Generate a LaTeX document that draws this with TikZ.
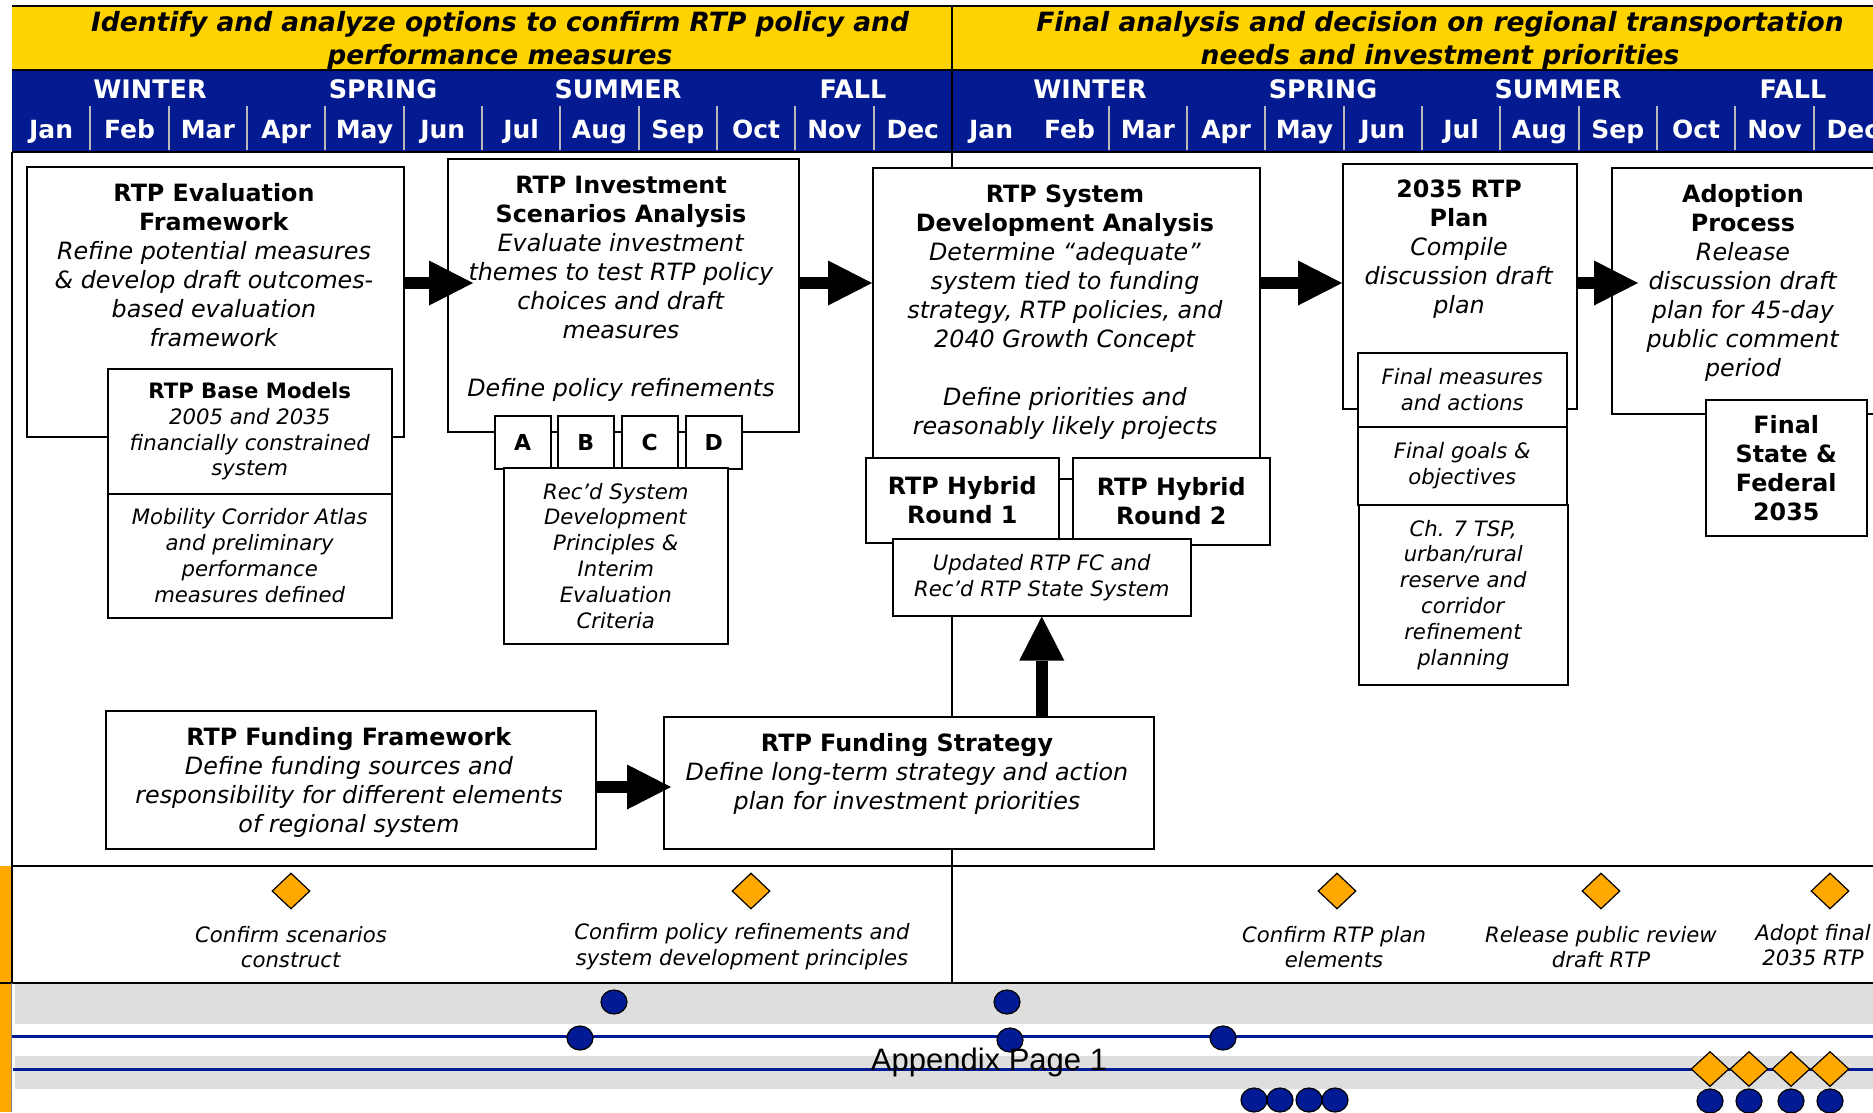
\documentclass[tikz,border=0pt]{standalone}
\usepackage{fontspec}
\setmainfont{DejaVu Sans}[ItalicFont={DejaVu Sans Oblique},BoldItalicFont={DejaVu Sans Bold Oblique}]
\newfontfamily\arialfont{Liberation Sans}
\usepackage{tikz}
\usetikzlibrary{arrows.meta, shapes.geometric}
\definecolor{hdryellow}{RGB}{255,211,0}
\definecolor{hdrblue}{RGB}{4,26,145}
\definecolor{msorange}{RGB}{255,168,0}
\definecolor{bandgray}{RGB}{222,222,222}
\definecolor{dotblue}{RGB}{2,26,148}
\definecolor{sepgray}{RGB}{185,185,185}
\newcommand{\boxfont}{\fontsize{23.8}{29}\selectfont}
\newcommand{\notefont}{\fontsize{21.2}{25.8}\selectfont}

\begin{document}
\begin{tikzpicture}[x=1pt,y=-1pt,
        box/.style={draw=black,line width=1.5pt,fill=white,inner sep=0pt,anchor=north west,align=center},
        boxtxt/.style={align=center,inner sep=0pt,font=\boxfont},
        notetxt/.style={align=center,inner sep=0pt,font=\notefont},
        hdrtxt/.style={align=center,inner sep=0pt,font=\fontsize{26.5}{33}\selectfont\bfseries\itshape},
        season/.style={text=white,inner sep=0pt,anchor=base,font=\fontsize{25.5}{25.5}\selectfont\bfseries},
        month/.style={text=white,inner sep=0pt,anchor=base,font=\fontsize{25}{25}\selectfont\bfseries},
        sepline/.style={sepgray,line width=2pt},
        bigarrow/.style={line width=12pt,-{Triangle[length=44pt,width=45pt,line width=0pt]}},
        milestone/.style={diamond,draw=black,line width=1.2pt,fill=msorange,inner sep=0pt,minimum width=38pt,minimum height=36pt},
        dot/.style={ellipse,draw=black,line width=1.2pt,fill=dotblue,inner sep=0pt,minimum width=26pt,minimum height=24pt}]

        \useasboundingbox (0,0) rectangle (1873,1112);
        \clip (0,0) rectangle (1873,1112);
        \fill[white] (0,0) rectangle (1873,1112);

        % Header bands
        \fill[hdryellow] (12,6) rectangle (1873,70);
        \fill[hdrblue] (12,70) rectangle (1873,152);
        \draw[line width=2.5pt] (12,6) -- (1873,6);
        \draw[line width=2.5pt] (12,70) -- (1873,70);
        \draw[line width=2.5pt] (12,152) -- (1873,152);
        \draw[line width=2.5pt] (952,6) -- (952,152); % year divider
        \node[hdrtxt] (phase1) at (500,41) {Identify and analyze options to confirm RTP policy and\\performance measures};
        \node[hdrtxt] (phase2) at (1440,41) {Final analysis and decision on regional transportation\\needs and investment priorities};

        % Seasons and months
        \foreach \yr in {12,952} {
                \foreach \s/\dx in {WINTER/138,SPRING/371,SUMMER/606,FALL/841}
                        \node[season] (s\yr-\s) at ({\yr+\dx},98) {\s};
                \foreach \m [count=\i from 0] in {Jan,Feb,Mar,Apr,May,Jun,Jul,Aug,Sep,Oct,Nov,Dec}
                        \node[month] (m\yr-\m) at ({\yr+78.33*(\i+0.5)},138) {\m};
        }
        \foreach \k in {1,...,11} \draw[sepline] ({12+78.33*\k},106) -- ({12+78.33*\k},150);
        \foreach \k in {2,...,11} \draw[sepline] ({952+78.33*\k},106) -- ({952+78.33*\k},150);

        % Body frame
        \draw[line width=2pt] (12,152) -- (12,983); % left border
        \draw[line width=1.5pt] (952,152) -- (952,983); % year divider
        \fill[bandgray] (15,983) rectangle (1873,1024);
        \fill[bandgray] (15,1056) rectangle (1873,1089);
        \draw[dotblue,line width=3pt] (12,1036) -- (1873,1036);
        \draw[dotblue,line width=3pt] (13,1069) -- (1873,1069);
        \fill[msorange] (0,866) rectangle (11,1112);
        \draw[line width=1.5pt] (0,983) -- (12,983);
        \draw[gray,line width=1pt] (11,983) -- (11,1112);
        \draw[line width=1.5pt] (12,866) -- (1873,866);
        \draw[line width=2.5pt] (12,983) -- (1873,983);

        % First year
        \node[box,minimum width=377pt,minimum height=270pt] (evalfw) at (26,166) {};
        \node[boxtxt] (evalfwtxt) at (214,265) {\textbf{RTP Evaluation}\\\textbf{Framework}\\\textit{Refine potential measures}\\\textit{\& develop draft outcomes-}\\\textit{based evaluation}\\\textit{framework}};
        \node[box,minimum width=284pt,minimum height=125pt,font=\notefont] (basemod) at (107,368) {\textbf{RTP Base Models}\\\textit{2005 and 2035}\\\textit{financially constrained}\\\textit{system}};
        \node[box,minimum width=284pt,minimum height=124pt,font=\notefont] (atlas) at (107,493) {\textit{Mobility Corridor Atlas}\\\textit{and preliminary}\\\textit{performance}\\\textit{measures defined}};

        \node[box,minimum width=351pt,minimum height=273pt] (invest) at (447,158) {};
        \node[boxtxt] (investtxt) at (621,289) {\textbf{RTP Investment}\\\textbf{Scenarios Analysis}\\\textit{Evaluate investment}\\\textit{themes to test RTP policy}\\\textit{choices and draft}\\\textit{measures}\\[29pt]\textit{Define policy refinements}};
        \foreach \l/\xx in {A/494,B/557,C/621,D/685}
                \node[box,minimum width=56pt,minimum height=53pt,font=\fontsize{22}{22}\selectfont\bfseries] (sc\l) at (\xx,415) {\l};
        \node[box,minimum width=224pt,minimum height=176pt,font=\notefont] (recd) at (503,467) {\textit{Rec’d System}\\\textit{Development}\\\textit{Principles \&}\\\textit{Interim}\\\textit{Evaluation}\\\textit{Criteria}};

        % Second year
        \node[box,minimum width=387pt,minimum height=311pt] (sysdev) at (872,167) {};
        \node[boxtxt] (sysdevtxt) at (1065,312) {\textbf{RTP System}\\\textbf{Development Analysis}\\\textit{Determine “adequate”}\\\textit{system tied to funding}\\\textit{strategy, RTP policies, and}\\\textit{2040 Growth Concept}\\[29pt]\textit{Define priorities and}\\\textit{reasonably likely projects}};
        \node[box,minimum width=193pt,minimum height=85pt,font=\boxfont] (hyb1) at (865,457) {\textbf{RTP Hybrid}\\\textbf{Round 1}};
        \node[box,minimum width=197pt,minimum height=87pt,font=\boxfont] (hyb2) at (1072,457) {\textbf{RTP Hybrid}\\\textbf{Round 2}};
        \node[box,minimum width=298pt,minimum height=77pt,font=\notefont] (updated) at (892,538) {\textit{Updated RTP FC and}\\\textit{Rec’d RTP State System}};

        \node[box,minimum width=234pt,minimum height=245pt] (plan) at (1342,163) {};
        \node[boxtxt] (plantxt) at (1459,249) {\textbf{2035 RTP}\\\textbf{Plan}\\\textit{Compile}\\\textit{discussion draft}\\\textit{plan}};
        \node[box,minimum width=209pt,minimum height=74pt,font=\notefont] (finmeas) at (1357,352) {\textit{Final measures}\\\textit{and actions}};
        \node[box,minimum width=209pt,minimum height=78pt,font=\notefont] (fingoals) at (1357,426) {\textit{Final goals \&}\\\textit{objectives}};
        \node[box,minimum width=209pt,minimum height=180pt,font=\notefont] (tsp) at (1358,504) {\textit{Ch. 7 TSP,}\\\textit{urban/rural}\\\textit{reserve and}\\\textit{corridor}\\\textit{refinement}\\\textit{planning}};

        \node[box,minimum width=300pt,minimum height=246pt] (adopt) at (1611,167) {};
        \node[boxtxt] (adopttxt) at (1743,283) {\textbf{Adoption}\\\textbf{Process}\\\textit{Release}\\\textit{discussion draft}\\\textit{plan for 45-day}\\\textit{public comment}\\\textit{period}};
        \node[box,minimum width=161pt,minimum height=136pt,font=\boxfont] (finstate) at (1705,399) {\textbf{Final}\\\textbf{State \&}\\\textbf{Federal}\\\textbf{2035}};

        % Funding row
        \node[box,minimum width=490pt,minimum height=138pt] (fundfw) at (105,710) {};
        \node[boxtxt] (fundfwtxt) at (349,782) {\textbf{RTP Funding Framework}\\\textit{Define funding sources and}\\\textit{responsibility for different elements}\\\textit{of regional system}};
        \node[box,minimum width=490pt,minimum height=132pt] (fundstr) at (663,716) {};
        \node[boxtxt] (fundstrtxt) at (907,774) {\textbf{RTP Funding Strategy}\\\textit{Define long-term strategy and action}\\\textit{plan for investment priorities}};

        % Block arrows
        \coordinate (arow) at (0,283);
        \coordinate (frow) at (0,787);
        \draw[bigarrow] (evalfw.east |- arow) -- ([xshift=26pt]invest.west |- arow);
        \draw[bigarrow] (invest.east |- arow) -- (sysdev.west |- arow);
        \draw[bigarrow] (sysdev.east |- arow) -- (plan.west |- arow);
        \draw[bigarrow] (plan.east |- arow) -- ([xshift=27pt]adopt.west |- arow);
        \draw[bigarrow] (fundfw.east |- frow) -- ([xshift=8pt]fundstr.west |- frow);
        \draw[bigarrow] (updated.south |- fundstr.north) -- (updated.south);

        % Milestones
        \node[milestone] (ms1) at (291,891) {};
        \node[milestone] (ms2) at (751,891) {};
        \node[milestone] (ms3) at (1337,891) {};
        \node[milestone] (ms4) at (1601,891) {};
        \node[milestone] (ms5) at (1830,891) {};
        \node[notetxt] (ms1txt) at (291,947) {\textit{Confirm scenarios}\\\textit{construct}};
        \node[notetxt] (ms2txt) at (742,947) {\textit{Confirm policy refinements and}\\\textit{system development principles}};
        \node[notetxt] (ms3txt) at (1334,947) {\textit{Confirm RTP plan}\\\textit{elements}};
        \node[notetxt] (ms4txt) at (1601,947) {\textit{Release public review}\\\textit{draft RTP}};
        \node[notetxt] (ms5txt) at (1813,945) {\textit{Adopt final}\\\textit{2035 RTP}};

        % Bottom tracks
        \foreach \xx [count=\i] in {1710,1749,1791,1830}
                \node[milestone,minimum height=35pt] (bd\i) at (\xx,1069) {};
        \foreach \xx/\yy [count=\i] in {614/1002,1007/1002,580/1038,1010/1040,1223/1038,1254/1100,1280/1100,1309/1100,1335/1100,1710/1101,1749/1101,1791/1101,1830/1101}
                \node[dot] (dot\i) at (\xx,\yy) {};
        \node[inner sep=0pt,font=\arialfont\fontsize{31}{31}\selectfont] (pagelbl) at (989,1062) {Appendix Page 1};

\end{tikzpicture}
\end{document}
